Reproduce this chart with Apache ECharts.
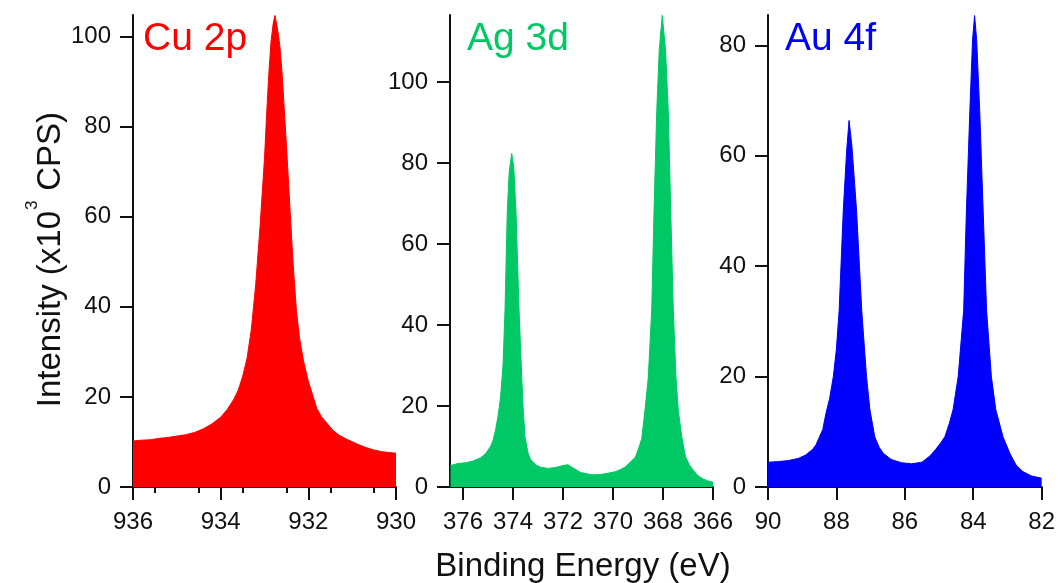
<!DOCTYPE html>
<html>
<head>
<meta charset="utf-8">
<title>XPS core levels</title>
<script src="https://cdn.jsdelivr.net/npm/echarts@6/dist/echarts.min.js"></script>
<style>
  html, body { margin: 0; padding: 0; background: #fff; }
  #main { width: 1058px; height: 583px; }
</style>
</head>
<body>
<div id="main"></div>
<script>
// Cu 2p panel
var cuEnergy = [936.0,935.8,935.6,935.4,935.2,935.0,934.8,934.6,934.4,934.2,934.0,933.85,933.7,933.6,933.5,933.4,933.3,933.2,933.1,933.0,932.95,932.9,932.85,932.8,932.76,932.7,932.65,932.6,932.55,932.5,932.42,932.35,932.27,932.2,932.11,932.0,931.92,931.81,931.7,931.58,931.44,931.3,931.1,930.9,930.7,930.5,930.3,930.0];
var cuIntensity = [10.2,10.4,10.5,10.8,11.0,11.3,11.6,12.1,12.9,14.0,15.5,17.2,19.5,21.5,24.5,28.5,35,45,58,73,83,92,99,103,104.7,101.5,98,92,84,76,62,50,39,33,28,23.5,21,17.5,15.6,14.2,12.6,11.5,10.5,9.6,8.8,8.2,7.8,7.5];

// Ag 3d panel
var agEnergy = [376.5,376.2,375.9,375.6,375.3,375.1,374.9,374.8,374.7,374.6,374.5,374.4,374.32,374.23,374.15,374.05,373.97,373.88,373.76,373.65,373.59,373.52,373.4,373.3,373.1,372.9,372.6,372.3,372.0,371.8,371.6,371.3,371.0,370.8,370.5,370.2,369.9,369.7,369.5,369.3,369.1,368.95,368.85,368.72,368.59,368.45,368.36,368.25,368.15,368.03,367.9,367.79,367.69,367.59,367.48,367.39,367.25,367.1,366.95,366.8,366.6,366.4,366.2,366.0];
var agIntensity = [5.3,5.8,6.0,6.4,7.2,8.2,10,11.5,14,17.5,22,30,43.7,68,78,82.4,79,68,44,27,19,12.4,8.4,6.8,5.5,4.9,4.6,4.8,5.3,5.5,4.7,3.6,3.2,3.0,3.1,3.4,3.8,4.3,5.0,6.2,7.4,10,12,19,27,44,68,93,108,116.5,108,93,68,44,27,19,12.4,7.5,5.5,4.2,2.8,2.0,1.5,1.2];

// Au 4f panel
var auEnergy = [90.0,89.7,89.4,89.1,88.9,88.7,88.6,88.5,88.4,88.3,88.2,88.09,88.0,87.92,87.8,87.7,87.63,87.55,87.41,87.26,87.12,87.02,86.88,86.75,86.63,86.4,86.1,85.8,85.5,85.27,85.1,84.95,84.83,84.7,84.59,84.44,84.28,84.2,84.1,84.02,83.96,83.9,83.81,83.71,83.61,83.47,83.34,83.13,82.93,82.75,82.55,82.3,82.0];
var auIntensity = [4.5,4.6,4.8,5.2,5.8,6.8,7.6,9.0,10.4,13.5,16,20,25,32,50,61,66.4,62,50,32,20,14,9.1,7.2,6.1,5.0,4.4,4.2,4.5,5.6,6.8,8.0,9.1,11.5,14,20,32,50,68,81,85.4,81,68,50,32,20,14,9.1,6.1,4.0,2.8,2.0,1.6];

// tick labels
var cuXTicks = [930, 932, 934, 936];
var agXTicks = [366, 368, 370, 372, 374, 376];
var auXTicks = [82, 84, 86, 88, 90];
var cuYTicks = [0, 20, 40, 60, 80, 100];
var agYTicks = [0, 20, 40, 60, 80, 100];
var auYTicks = [0, 20, 40, 60, 80];

var panelNames = ['Cu 2p', 'Ag 3d', 'Au 4f'];
var panelColors = ['#ff0000', '#00c864', '#0000ff'];

function zip(xs, ys) {
  return xs.map(function (x, i) { return [x, ys[i]]; });
}

var FONT = 'Liberation Sans, Arial, sans-serif';
var INK = '#111';

function xAxis(idx, min, max, ticks, minor) {
  return {
    type: 'value', gridIndex: idx, min: min, max: max, inverse: true,
    axisLine: { show: true, onZero: false, lineStyle: { color: INK, width: 2 } },
    axisTick: { show: true, length: 13, lineStyle: { color: INK, width: 2 }, customValues: ticks },
    minorTick: { show: !!minor, splitNumber: 2, length: 6, lineStyle: { color: INK, width: 2 } },
    axisLabel: { color: INK, fontSize: 24, fontFamily: FONT, margin: 23, customValues: ticks },
    splitLine: { show: false }, minorSplitLine: { show: false }
  };
}
function yAxis(idx, max, ticks) {
  return {
    type: 'value', gridIndex: idx, min: 0, max: max,
    axisLine: { show: true, lineStyle: { color: INK, width: 2 } },
    axisTick: { show: true, length: 13, lineStyle: { color: INK, width: 2 }, customValues: ticks },
    axisLabel: { color: INK, fontSize: 24, fontFamily: FONT, margin: 22, customValues: ticks },
    splitLine: { show: false }
  };
}
function area(idx, data, color) {
  return {
    type: 'line', xAxisIndex: idx, yAxisIndex: idx, data: data,
    showSymbol: false, symbol: 'none',
    lineStyle: { color: color, width: 1 },
    areaStyle: { color: color, opacity: 1 },
    silent: true
  };
}
function title(x, i) {
  return { type: 'text', x: x, y: 39.5,
    style: { text: panelNames[i], fill: panelColors[i], fontSize: 39, fontFamily: FONT, verticalAlign: 'middle' } };
}

// y axis name: written in three pieces so the superscript can sit above the caps
var yNameSplit = 211;
var yNameParts = [
  { type: 'text', x: 50.6, y: yNameSplit, rotation: Math.PI / 2,
    style: { text: 'Intensity (x10', fill: INK, fontSize: 33, fontFamily: FONT, align: 'right', verticalAlign: 'middle' } },
  { type: 'text', x: 32.5, y: yNameSplit - 1, rotation: Math.PI / 2,
    style: { text: '3', fill: INK, fontSize: 17, fontFamily: FONT, align: 'left', verticalAlign: 'middle' } },
  { type: 'text', x: 50.6, y: yNameSplit - 11, rotation: Math.PI / 2,
    style: { text: ' CPS)', fill: INK, fontSize: 33, fontFamily: FONT, align: 'left', verticalAlign: 'middle' } }
];

var chart = echarts.init(document.getElementById('main'), null, { renderer: 'canvas' });
chart.setOption({
  animation: false,
  backgroundColor: '#fff',
  grid: [
    { left: 133, top: 15, width: 263, height: 472 },
    { left: 450, top: 15, width: 263, height: 472 },
    { left: 768, top: 15, width: 274, height: 472 }
  ],
  xAxis: [
    xAxis(0, 930, 936, cuXTicks, true),
    xAxis(1, 366, 376.52, agXTicks, false),
    xAxis(2, 82, 90, auXTicks, false)
  ],
  yAxis: [
    yAxis(0, 104.8, cuYTicks),
    yAxis(1, 116.6, agYTicks),
    yAxis(2, 85.5, auYTicks)
  ],
  series: [
    area(0, zip(cuEnergy, cuIntensity), panelColors[0]),
    area(1, zip(agEnergy, agIntensity), panelColors[1]),
    area(2, zip(auEnergy, auIntensity), panelColors[2])
  ],
  graphic: [
    title(143, 0), title(467, 1), title(785, 2),
    { type: 'text', x: 583, y: 566.6, style: { text: 'Binding Energy (eV)', fill: INK, fontSize: 33, fontFamily: FONT, align: 'center', verticalAlign: 'middle' } }
  ].concat(yNameParts)
});
</script>
</body>
</html>
